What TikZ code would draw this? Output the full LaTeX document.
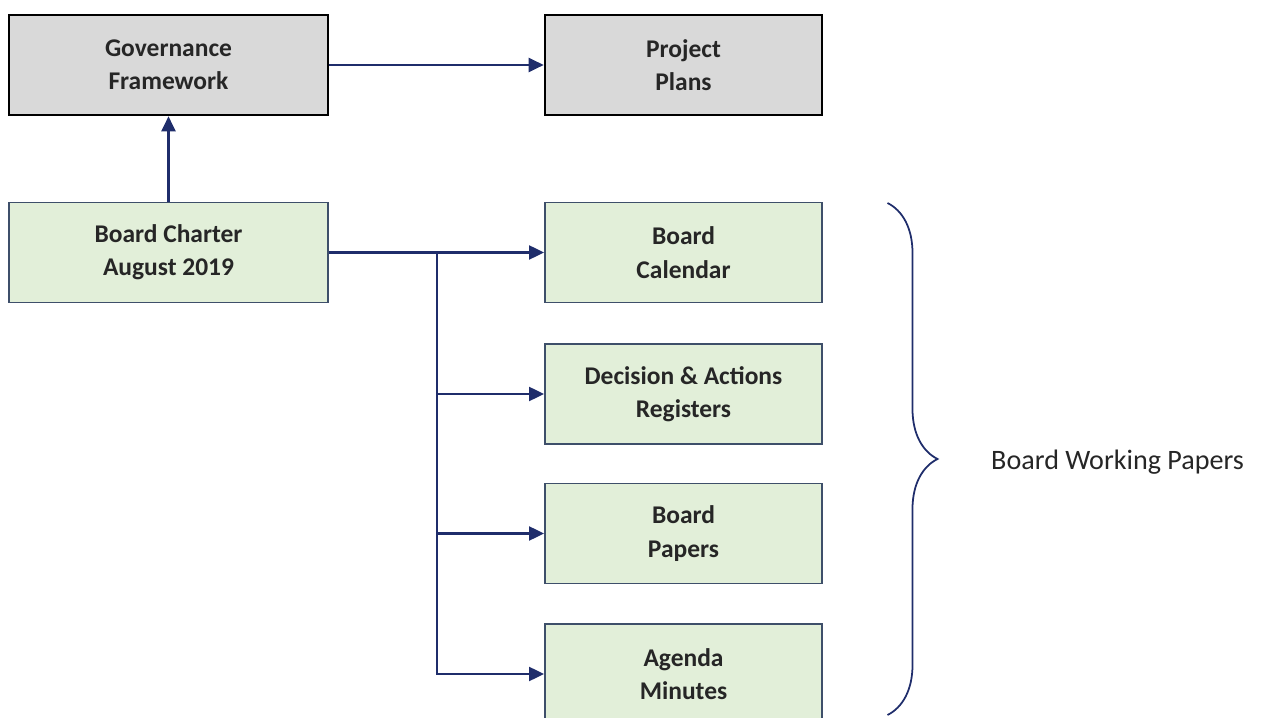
\documentclass[tikz,border=0pt]{standalone}
\usepackage{fontspec}
\setmainfont{Carlito}
\usetikzlibrary{arrows.meta,positioning,decorations.pathreplacing}

\definecolor{navy}{HTML}{1F2D6B}
\definecolor{slate}{HTML}{3E4F6A}
\definecolor{paleGreen}{HTML}{E2EFD9}
\definecolor{paleGrey}{HTML}{D9D9D9}

\begin{document}
\begin{tikzpicture}[
  font=\fontsize{14.5}{19}\selectfont,
  box/.style={minimum height=20mm, align=center, inner sep=2pt,
              font=\fontsize{14.5}{19}\selectfont\bfseries, text=black!85},
  grey/.style={box, draw=black, line width=1.5pt, fill=paleGrey,
               minimum width=63.8mm},
  green/.style={box, draw=slate, line width=1.1pt, fill=paleGreen},
  a/.style={-{Triangle[length=3mm,width=2.8mm]}, line width=1.3pt, draw=navy}
]
\useasboundingbox (0,0) rectangle (25.26,-14.36);

\node[grey] (gov) at (3.37,-1.30) {Governance\\Framework};
\node[grey, minimum width=55.4mm] (plans) at (13.67,-1.30) {Project\\Plans};

\node[green, minimum width=63.8mm] (charter) at (3.37,-5.05) {Board Charter\\August 2019};
\node[green, minimum width=55.4mm] (calendar) at (13.67,-5.05) {Board\\Calendar};
\node[green, minimum width=55.4mm] (registers) at (13.67,-7.88) {Decision \& Actions\\Registers};
\node[green, minimum width=55.4mm] (papers) at (13.67,-10.67) {Board\\Papers};
\node[green, minimum width=55.4mm] (agenda) at (13.67,-13.48) {Agenda\\Minutes};

\coordinate (split) at (8.74,-5.05);

\draw[a] (gov) -- (plans);
\draw[a] (charter) -- (gov);
\draw[a] (charter) -- (calendar);
\draw[a] (split) |- (registers);
\draw[a] (split) |- (papers);
\draw[a] (split) |- (agenda);

% brace over the working papers
\coordinate (braceTop) at (17.75,-4.06);
\coordinate (braceBot) at (17.75,-14.30);
\draw[navy, line width=1pt, decorate, decoration={brace, amplitude=10mm}]
  (braceTop) -- (braceBot);
\node[anchor=west, font=\fontsize{16}{19}\selectfont, text=black!85] (wp) at (19.7,-9.24) {Board Working Papers};
\end{tikzpicture}
\end{document}
